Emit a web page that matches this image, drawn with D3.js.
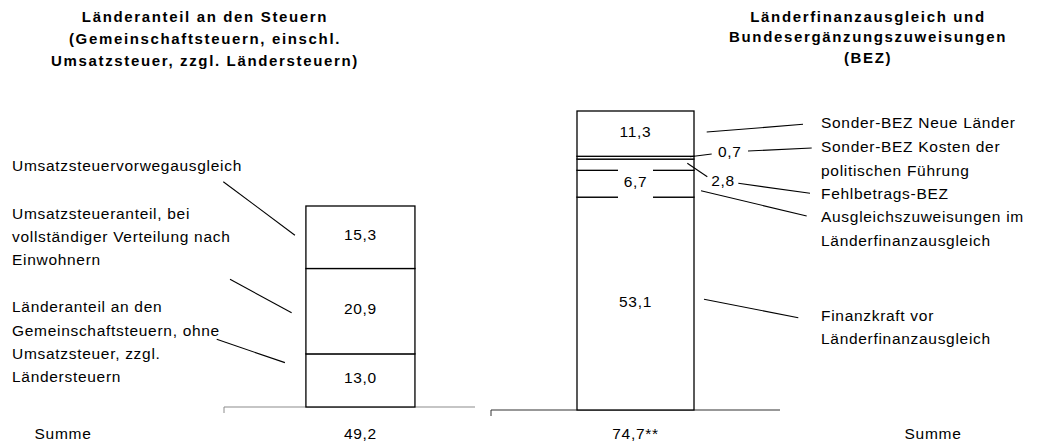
<!DOCTYPE html>
<html>
<head>
<meta charset="utf-8">
<script src="https://cdn.jsdelivr.net/npm/d3@7"></script>
<style>
  body { margin: 0; background: #fff; }
  svg text { font-family: "Liberation Sans", Arial, sans-serif; fill: #000; }
</style>
</head>
<body>
<div id="chart"></div>
<script>
// ---- data (stacks listed bottom to top) ----
const leftTitle = ["Länderanteil an den Steuern", "(Gemeinschaftsteuern, einschl.", "Umsatzsteuer, zzgl. Ländersteuern)"];
const leftCategories = [
    ["Länderanteil an den", "Gemeinschaftsteuern, ohne", "Umsatzsteuer, zzgl.", "Ländersteuern"],
    ["Umsatzsteueranteil, bei", "vollständiger Verteilung nach", "Einwohnern"],
    ["Umsatzsteuervorwegausgleich"]
];
const leftValues = [13.0, 20.9, 15.3];

const rightTitle = ["Länderfinanzausgleich und", "Bundesergänzungszuweisungen", "(BEZ)"];
const rightCategories = [
    ["Finanzkraft vor", "Länderfinanzausgleich"],
    ["Ausgleichszuweisungen im", "Länderfinanzausgleich"],
    ["Fehlbetrags-BEZ"],
    ["Sonder-BEZ Kosten der", "politischen Führung"],
    ["Sonder-BEZ Neue Länder"]
];
const rightValues = [53.1, 6.7, 2.8, 0.7, 11.3];

const totalLabels = ["49,2", "74,7**"];
const sumLabels = ["Summe", "Summe"];

// ---- layout ----
const width = 1037, height = 444;
const lineStep = 23.3;
const fontSize = "15.5px", spacing = "0.7px";
const fmt = v => d3.format(".1f")(v).replace(".", ",");

const svg = d3.select("#chart").append("svg")
    .attr("width", width)
    .attr("height", height);

// leader notes: label block position, leader start/end; bar-side ends are relative to the segment
const panels = [
    {
        title: leftTitle, titleX: 205, titleY: 16, titleStep: 22,
        cats: leftCategories, vals: leftValues, total: totalLabels[0],
        xRange: [224, 475], pad: 0.651, align: 0.577, yRange: [407, 206], axisColor: "#8c8c8c",
        labelX: 12,
        notes: [
            { ly: 306.7, free: [216.7, 339.3], side: "left", off: -21, dy: -17.8 },
            { ly: 213.3, free: [230, 279.3], side: "left", off: -14.3, dy: 1.5 },
            { ly: 165, free: [223.3, 181.7], side: "left", off: -11, dy: -2 }
        ]
    },
    {
        title: rightTitle, titleX: 868, titleY: 16, titleStep: 20.7,
        cats: rightCategories, vals: rightValues, total: totalLabels[1],
        xRange: [491, 780], pad: 0.735, align: 0.5, yRange: [410, 111], axisColor: "#333",
        labelX: 821,
        notes: [
            { ly: 315, free: [798.3, 317.7], side: "right", off: 10, dy: -4.3 },
            { ly: 216.7, free: [806.7, 216], side: "right", off: 7, dy: 7, bg: true },
            { ly: 193.3, free: [810, 193.3], side: "right", off: -6.7, dy: -1.5,
              outside: [723, 180], via: [[707.3, 176.7], [738.3, 183.3]] },
            { ly: 146.7, free: [811.7, 148], side: "right", off: -4, dy: -1,
              outside: [729.8, 151.7], via: [[711.7, 154], [748, 151]] },
            { ly: 122.3, free: [803, 124.3], side: "right", off: 12.7, dy: -1.6 }
        ]
    }
];

panels.forEach(p => {
    const g = svg.append("g");

    let x = d3.scaleBand()
        .domain([p.total])
        .range(p.xRange)
        .paddingInner(0)
        .paddingOuter(p.pad)
        .align(p.align);

    let y = d3.scaleLinear()
        .domain([0, d3.sum(p.vals)])
        .range(p.yRange);

    let ends = d3.cumsum(p.vals);
    let segs = p.vals.map((v, i) => ({ v: v, y0: ends[i] - v, y1: ends[i], i: i }));

    // title
    g.append("text")
        .attr("x", p.titleX)
        .attr("text-anchor", "middle")
        .style("font-size", "15px")
        .style("font-weight", "bold")
        .style("letter-spacing", "1.65px")
        .selectAll("tspan")
        .data(p.title)
        .join("tspan")
        .attr("x", p.titleX)
        .attr("y", (d, i) => p.titleY + i * p.titleStep)
        .attr("dominant-baseline", "central")
        .text(d => d);

    // axis line with one tick at the left end
    g.append("line")
        .attr("x1", p.xRange[0]).attr("x2", p.xRange[1])
        .attr("y1", y(0)).attr("y2", y(0))
        .attr("stroke", p.axisColor).attr("stroke-width", 1.2);
    g.append("line")
        .attr("x1", p.xRange[0]).attr("x2", p.xRange[0])
        .attr("y1", y(0)).attr("y2", y(0) + 6)
        .attr("stroke", p.axisColor).attr("stroke-width", 1);

    // stacked segments
    g.selectAll("rect.seg")
        .data(segs)
        .join("rect")
        .attr("class", "seg")
        .attr("x", x(p.total))
        .attr("width", x.bandwidth())
        .attr("y", d => y(d.y1))
        .attr("height", d => y(d.y0) - y(d.y1))
        .attr("fill", "#fff")
        .attr("stroke", "#000")
        .attr("stroke-width", 1.3);

    let barLeft = x(p.total), barRight = x(p.total) + x.bandwidth();
    let cx = barLeft + x.bandwidth() / 2;

    // value labels
    segs.forEach(d => {
        let n = p.notes[d.i];
        let mid = (y(d.y0) + y(d.y1)) / 2;
        let pos = n.outside ? n.outside : [cx, mid - 2.5];
        if (n.bg) {
            g.append("rect")
                .attr("x", pos[0] - 17.5).attr("y", mid - 16)
                .attr("width", 35).attr("height", 32)
                .attr("fill", "#fff");
        }
        g.append("text")
            .attr("x", pos[0]).attr("y", pos[1])
            .attr("text-anchor", "middle")
            .attr("dominant-baseline", "central")
            .style("font-size", fontSize)
            .style("letter-spacing", spacing)
            .text(fmt(d.v));

        // leader line(s)
        let bx = (n.side === "left" ? barLeft : barRight) + n.off;
        let by = mid + n.dy;
        let pts = n.via ? [[bx, by], n.via[0], n.via[1], n.free] : [[n.free[0], n.free[1]], [bx, by]];
        for (let k = 0; k < pts.length - 1; k += 2) {
            g.append("line")
                .attr("x1", pts[k][0]).attr("y1", pts[k][1])
                .attr("x2", pts[k + 1][0]).attr("y2", pts[k + 1][1])
                .attr("stroke", "#000").attr("stroke-width", 1.1);
        }

        // category label block
        g.append("text")
            .style("font-size", fontSize)
            .style("letter-spacing", spacing)
            .selectAll("tspan")
            .data(p.cats[d.i])
            .join("tspan")
            .attr("x", p.labelX)
            .attr("y", (t, j) => n.ly + j * lineStep)
            .attr("dominant-baseline", "central")
            .text(t => t);
    });

    // total under the bar
    g.append("text")
        .attr("x", cx).attr("y", 433)
        .attr("text-anchor", "middle")
        .attr("dominant-baseline", "central")
        .style("font-size", fontSize)
        .style("letter-spacing", spacing)
        .text(p.total);
});

// "Summe" captions at both sides
svg.selectAll("text.sum")
    .data(sumLabels)
    .join("text")
    .attr("class", "sum")
    .attr("x", (d, i) => i === 0 ? 63 : 933)
    .attr("y", 433)
    .attr("text-anchor", "middle")
    .attr("dominant-baseline", "central")
    .style("font-size", fontSize)
    .style("letter-spacing", spacing)
    .text(d => d);
</script>
</body>
</html>
